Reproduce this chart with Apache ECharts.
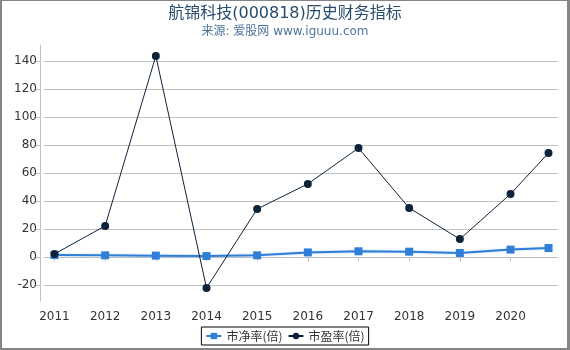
<!DOCTYPE html>
<html>
<head>
<meta charset="utf-8">
<script src="https://cdn.jsdelivr.net/npm/echarts@6/dist/echarts.min.js"></script>
<style>
html, body { margin: 0; padding: 0; background: #fff; }
#frame {
    position: absolute; left: 0; top: 0; width: 570px; height: 350px;
    box-sizing: border-box;
    border-top: 1px solid #858585; border-left: 2px solid #858585;
    border-right: 3px solid #858585; border-bottom: 2px solid #858585;
    pointer-events: none; z-index: 10;
}
#main { position: absolute; left: 0; top: 0; width: 570px; height: 350px; }
</style>
</head>
<body>
<div id="main"></div>
<div id="frame"></div>
<script>
// 年份（最后一个点为2020年三季度）
var years = [2011, 2012, 2013, 2014, 2015, 2016, 2017, 2018, 2019, 2020, 2020.75];
var yearTicks = [2011, 2012, 2013, 2014, 2015, 2016, 2017, 2018, 2019, 2020];
var yTicks = [-20, 0, 20, 40, 60, 80, 100, 120, 140];
// 市净率
var pb = [1.6, 1.4, 1.2, 0.9, 1.4, 3.5, 4.3, 4.0, 3.1, 5.5, 6.6];
// 市盈率
var pe = [2.4, 22.4, 143.8, -21.9, 34.5, 52.4, 78, 35.2, 13, 45.2, 74.5];

function pairs(vals) {
    return vals.map(function (v, i) { return [years[i], v]; });
}

var font = 'DejaVu Sans, Noto Sans CJK SC, sans-serif';
var myChart = echarts.init(document.getElementById('main'));
var option = {
    animation: false,
    title: {
        text: '航锦科技(000818)历史财务指标',
        subtext: '来源: 爱股网 www.iguuu.com',
        left: 'center',
        top: 1,
        itemGap: 4,
        textStyle: { fontSize: 16, fontWeight: 'normal', color: '#274b6d', fontFamily: font },
        subtextStyle: { fontSize: 12, color: '#4d759e', fontFamily: font }
    },
    legend: {
        top: 327,
        left: 'center',
        borderColor: '#000',
        borderWidth: 1,
        padding: [3, 4, 3, 4],
        itemGap: 5,
        itemWidth: 15,
        itemHeight: 8,
        textStyle: { fontSize: 12, color: '#333', fontFamily: 'Noto Sans CJK SC, sans-serif' },
        data: ['市净率(倍)', '市盈率(倍)']
    },
    grid: { left: 44, right: 12, top: 45, bottom: 49 },
    xAxis: {
        type: 'value',
        min: 2010.793,
        max: 2020.937,
        offset: 4,
        axisLine: { show: true, lineStyle: { color: '#c0c0c0' } },
        axisTick: { show: true, length: 4, customValues: yearTicks, lineStyle: { color: '#c0c0c0' } },
        axisLabel: {
            customValues: yearTicks, color: '#333', fontSize: 12, fontFamily: font, margin: 6,
            formatter: function (v) { return String(v); }
        },
        splitLine: { show: false }
    },
    yAxis: {
        type: 'value',
        min: -31.2,
        max: 151.6,
        offset: 4,
        axisLine: { show: true, lineStyle: { color: '#c0c0c0' } },
        axisTick: { show: true, length: 4, customValues: yTicks, lineStyle: { color: '#c0c0c0' } },
        axisLabel: { customValues: yTicks, color: '#333', fontSize: 12, fontFamily: font, margin: 3 },
        splitLine: { show: true, lineStyle: { color: '#c0c0c0' } }
    },
    series: [{
        name: '市净率(倍)',
        type: 'line',
        data: pairs(pb),
        symbol: 'rect',
        symbolSize: 8,
        color: '#2f7ed8',
        lineStyle: { width: 2, color: '#2f7ed8', shadowColor: 'rgba(47,126,216,0.35)', shadowBlur: 2 },
        itemStyle: { color: '#2f7ed8' }
    }, {
        name: '市盈率(倍)',
        type: 'line',
        data: pairs(pe),
        symbol: 'circle',
        symbolSize: 8,
        color: '#0d233a',
        lineStyle: { width: 1, color: '#0d233a' },
        itemStyle: { color: '#0d233a' }
    }]
};
myChart.setOption(option);
</script>
</body>
</html>
